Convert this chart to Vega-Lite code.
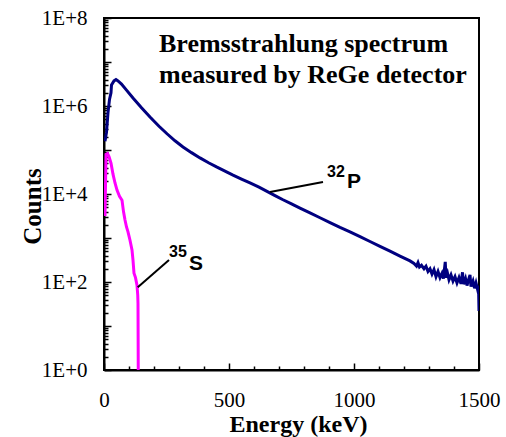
{
  "$schema": "https://vega.github.io/schema/vega-lite/v6.json",
  "width": 375,
  "height": 352,
  "autosize": {"type": "none"},
  "padding": {"left": 104, "top": 18, "right": 27, "bottom": 67},
  "background": "white",
  "config": {"view": {"stroke": "black", "strokeWidth": 2}, "axis": {"grid": false}},
  "datasets": {
    "spectra": [
      {"isotope": "32P", "energy": 4, "counts": 158000},
      {"isotope": "32P", "energy": 10, "counts": 251000},
      {"isotope": "32P", "energy": 16, "counts": 708000},
      {"isotope": "32P", "energy": 22, "counts": 1413000},
      {"isotope": "32P", "energy": 28, "counts": 1995000},
      {"isotope": "32P", "energy": 30, "counts": 3020000},
      {"isotope": "32P", "energy": 40, "counts": 3715000},
      {"isotope": "32P", "energy": 48, "counts": 3981000},
      {"isotope": "32P", "energy": 56, "counts": 3715000},
      {"isotope": "32P", "energy": 70, "counts": 3162000},
      {"isotope": "32P", "energy": 90, "counts": 2291000},
      {"isotope": "32P", "energy": 116, "counts": 1514000},
      {"isotope": "32P", "energy": 150, "counts": 912000},
      {"isotope": "32P", "energy": 184, "counts": 562000},
      {"isotope": "32P", "energy": 220, "counts": 347000},
      {"isotope": "32P", "energy": 252, "counts": 234000},
      {"isotope": "32P", "energy": 284, "counts": 162000},
      {"isotope": "32P", "energy": 316, "counts": 117500},
      {"isotope": "32P", "energy": 350, "counts": 87100},
      {"isotope": "32P", "energy": 384, "counts": 66100},
      {"isotope": "32P", "energy": 420, "counts": 50700},
      {"isotope": "32P", "energy": 452, "counts": 40700},
      {"isotope": "32P", "energy": 484, "counts": 33100},
      {"isotope": "32P", "energy": 516, "counts": 26900},
      {"isotope": "32P", "energy": 550, "counts": 21900},
      {"isotope": "32P", "energy": 584, "counts": 17800},
      {"isotope": "32P", "energy": 620, "counts": 14300},
      {"isotope": "32P", "energy": 652, "counts": 11500},
      {"isotope": "32P", "energy": 684, "counts": 9200},
      {"isotope": "32P", "energy": 716, "counts": 7400},
      {"isotope": "32P", "energy": 750, "counts": 5950},
      {"isotope": "32P", "energy": 784, "counts": 4790},
      {"isotope": "32P", "energy": 824, "counts": 3715},
      {"isotope": "32P", "energy": 864, "counts": 2884},
      {"isotope": "32P", "energy": 904, "counts": 2239},
      {"isotope": "32P", "energy": 944, "counts": 1738},
      {"isotope": "32P", "energy": 984, "counts": 1380},
      {"isotope": "32P", "energy": 1024, "counts": 1072},
      {"isotope": "32P", "energy": 1064, "counts": 832},
      {"isotope": "32P", "energy": 1104, "counts": 646},
      {"isotope": "32P", "energy": 1144, "counts": 501},
      {"isotope": "32P", "energy": 1184, "counts": 389},
      {"isotope": "32P", "energy": 1224, "counts": 302},
      {"isotope": "32P", "energy": 1240, "counts": 263},
      {"isotope": "32P", "energy": 1250, "counts": 229},
      {"isotope": "32P", "energy": 1256, "counts": 275},
      {"isotope": "32P", "energy": 1262, "counts": 219},
      {"isotope": "32P", "energy": 1270, "counts": 240},
      {"isotope": "32P", "energy": 1280, "counts": 200},
      {"isotope": "32P", "energy": 1288, "counts": 229},
      {"isotope": "32P", "energy": 1296, "counts": 174},
      {"isotope": "32P", "energy": 1304, "counts": 200},
      {"isotope": "32P", "energy": 1312, "counts": 151},
      {"isotope": "32P", "energy": 1320, "counts": 191},
      {"isotope": "32P", "energy": 1328, "counts": 132},
      {"isotope": "32P", "energy": 1336, "counts": 174},
      {"isotope": "32P", "energy": 1344, "counts": 126},
      {"isotope": "32P", "energy": 1352, "counts": 158},
      {"isotope": "32P", "energy": 1358, "counts": 120},
      {"isotope": "32P", "energy": 1362, "counts": 200},
      {"isotope": "32P", "energy": 1365, "counts": 288},
      {"isotope": "32P", "energy": 1368, "counts": 126},
      {"isotope": "32P", "energy": 1374, "counts": 158},
      {"isotope": "32P", "energy": 1380, "counts": 112},
      {"isotope": "32P", "energy": 1388, "counts": 145},
      {"isotope": "32P", "energy": 1396, "counts": 105},
      {"isotope": "32P", "energy": 1404, "counts": 132},
      {"isotope": "32P", "energy": 1412, "counts": 95},
      {"isotope": "32P", "energy": 1420, "counts": 126},
      {"isotope": "32P", "energy": 1428, "counts": 91},
      {"isotope": "32P", "energy": 1434, "counts": 166},
      {"isotope": "32P", "energy": 1438, "counts": 89},
      {"isotope": "32P", "energy": 1446, "counts": 120},
      {"isotope": "32P", "energy": 1452, "counts": 83},
      {"isotope": "32P", "energy": 1458, "counts": 112},
      {"isotope": "32P", "energy": 1464, "counts": 145},
      {"isotope": "32P", "energy": 1468, "counts": 79},
      {"isotope": "32P", "energy": 1476, "counts": 105},
      {"isotope": "32P", "energy": 1482, "counts": 72},
      {"isotope": "32P", "energy": 1488, "counts": 95},
      {"isotope": "32P", "energy": 1494, "counts": 69},
      {"isotope": "32P", "energy": 1498, "counts": 83},
      {"isotope": "32P", "energy": 1500, "counts": 22},
      {"isotope": "35S", "energy": 4, "counts": 3160},
      {"isotope": "35S", "energy": 8, "counts": 79400},
      {"isotope": "35S", "energy": 14, "counts": 83200},
      {"isotope": "35S", "energy": 20, "counts": 70800},
      {"isotope": "35S", "energy": 28, "counts": 50100},
      {"isotope": "35S", "energy": 36, "counts": 28200},
      {"isotope": "35S", "energy": 44, "counts": 17800},
      {"isotope": "35S", "energy": 52, "counts": 12300},
      {"isotope": "35S", "energy": 62, "counts": 8910},
      {"isotope": "35S", "energy": 72, "counts": 7240},
      {"isotope": "35S", "energy": 78, "counts": 3980},
      {"isotope": "35S", "energy": 84, "counts": 2570},
      {"isotope": "35S", "energy": 90, "counts": 1780},
      {"isotope": "35S", "energy": 96, "counts": 1380},
      {"isotope": "35S", "energy": 104, "counts": 891},
      {"isotope": "35S", "energy": 112, "counts": 537},
      {"isotope": "35S", "energy": 116, "counts": 316},
      {"isotope": "35S", "energy": 120, "counts": 158},
      {"isotope": "35S", "energy": 126, "counts": 126},
      {"isotope": "35S", "energy": 132, "counts": 85},
      {"isotope": "35S", "energy": 135, "counts": 50},
      {"isotope": "35S", "energy": 136, "counts": 32},
      {"isotope": "35S", "energy": 137, "counts": 1}
    ],
    "leaders": [
      {"energy": 664, "counts": 11100, "energy2": 876, "counts2": 18700},
      {"energy": 135, "counts": 76, "energy2": 260, "counts2": 316}
    ],
    "caption": [
      {"text": "Bremsstrahlung spectrum", "energy": 220, "counts": 16900000},
      {"text": "measured by ReGe detector", "energy": 220, "counts": 3330000}
    ],
    "sup": [
      {"text": "32", "energy": 892, "counts": 24300},
      {"text": "35", "energy": 260, "counts": 370}
    ],
    "elem": [
      {"text": "P", "energy": 972, "counts": 13700},
      {"text": "S", "energy": 340, "counts": 188}
    ]
  },
  "encoding": {
    "x": {
      "field": "energy",
      "type": "quantitative",
      "scale": {"domain": [0, 1500], "nice": false, "zero": false},
      "axis": {
        "title": "Energy (keV)",
        "values": [0, 100, 200, 300, 400, 500, 600, 700, 800, 900, 1000, 1100, 1200, 1300, 1400, 1500],
        "labelExpr": "datum.value % 500 === 0 ? '' + datum.value : ''",
        "labelFlush": false,
        "labelOverlap": false,
        "labelBound": false,
        "labelFont": "Liberation Serif",
        "labelFontSize": 21,
        "labelColor": "black",
        "labelPadding": 26,
        "tickSize": {"condition": {"test": "datum.value % 500 === 0", "value": -7}, "value": -4},
        "tickColor": "black",
        "tickWidth": 1.5,
        "domainColor": "black",
        "domainWidth": 2,
        "titleFont": "Liberation Serif",
        "titleFontSize": 24,
        "titleFontWeight": "bold",
        "titleColor": "black",
        "titlePadding": -1,
        "titleX": 194
      }
    },
    "y": {
      "field": "counts",
      "type": "quantitative",
      "scale": {"type": "log", "domain": [1, 100000000], "nice": false},
      "axis": {
        "title": "Counts",
        "values": [1, 2, 3, 4, 5, 6, 7, 8, 9, 10, 20, 30, 40, 50, 60, 70, 80, 90, 100, 200, 300, 400, 500, 600, 700, 800, 900, 1000, 2000, 3000, 4000, 5000, 6000, 7000, 8000, 9000, 10000, 20000, 30000, 40000, 50000, 60000, 70000, 80000, 90000, 100000, 200000, 300000, 400000, 500000, 600000, 700000, 800000, 900000, 1000000, 2000000, 3000000, 4000000, 5000000, 6000000, 7000000, 8000000, 9000000, 10000000, 20000000, 30000000, 40000000, 50000000, 60000000, 70000000, 80000000, 90000000, 100000000],
        "labelExpr": "indexof([1, 100, 10000, 1000000, 100000000], datum.value) >= 0 ? '1E+' + round(log(datum.value) / LN10) : ''",
        "labelFlush": false,
        "labelOverlap": false,
        "labelBound": false,
        "labelFont": "Liberation Serif",
        "labelFontSize": 21,
        "labelColor": "black",
        "labelPadding": 24,
        "tickSize": {"condition": {"test": "indexof([1, 10, 100, 1000, 10000, 100000, 1000000, 10000000, 100000000], datum.value) >= 0", "value": -7}, "value": -4},
        "tickColor": "black",
        "tickWidth": 1.5,
        "domainColor": "black",
        "domainWidth": 2,
        "titleFont": "Liberation Serif",
        "titleFontSize": 25,
        "titleFontWeight": "bold",
        "titleColor": "black",
        "titlePadding": -4,
        "titleY": 188
      }
    }
  },
  "layer": [
    {
      "data": {"name": "spectra"},
      "mark": {"type": "line", "strokeWidth": 3, "clip": true},
      "encoding": {
        "color": {"field": "isotope", "type": "nominal", "scale": {"domain": ["32P", "35S"], "range": ["#000080", "#FF00FF"]}, "legend": null}
      }
    },
    {
      "data": {"name": "leaders"},
      "mark": {"type": "rule", "color": "black", "strokeWidth": 2},
      "encoding": {
        "x2": {"field": "energy2"},
        "y2": {"field": "counts2"}
      }
    },
    {
      "data": {"name": "caption"},
      "mark": {"type": "text", "align": "left", "baseline": "alphabetic", "font": "Liberation Serif", "fontSize": 26, "fontWeight": "bold", "color": "black"},
      "encoding": {"text": {"field": "text"}}
    },
    {
      "data": {"name": "sup"},
      "mark": {"type": "text", "align": "left", "baseline": "alphabetic", "font": "Liberation Sans", "fontSize": 16, "fontWeight": "bold", "color": "black"},
      "encoding": {"text": {"field": "text"}}
    },
    {
      "data": {"name": "elem"},
      "mark": {"type": "text", "align": "left", "baseline": "alphabetic", "font": "Liberation Sans", "fontSize": 21, "fontWeight": "bold", "color": "black"},
      "encoding": {"text": {"field": "text"}}
    }
  ]
}
